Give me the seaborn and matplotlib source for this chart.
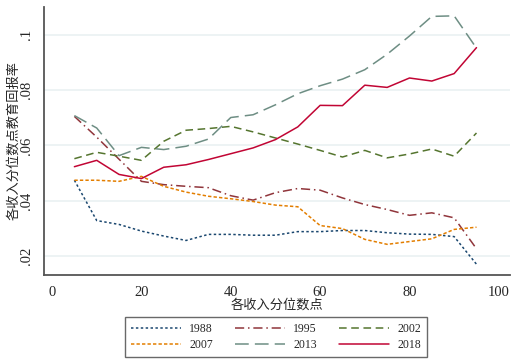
import numpy as np
import pandas as pd
import matplotlib
matplotlib.use("Agg")
import matplotlib.pyplot as plt
import seaborn as sns

# 收入分位数点
quantiles = [5, 10, 15, 20, 25, 30, 35, 40, 45, 50, 55, 60, 65, 70, 75, 80, 85, 90, 95]
years = ["1988", "1995", "2002", "2007", "2013", "2018"]

r1988 = [0.0474, 0.0328, 0.0314, 0.0290, 0.0272, 0.0256, 0.0278, 0.0278, 0.0275, 0.0275,
         0.0288, 0.0288, 0.0292, 0.0292, 0.0284, 0.0279, 0.0278, 0.0270, 0.0170]
r1995 = [0.0705, 0.0630, 0.0550, 0.0470, 0.0458, 0.0452, 0.0447, 0.0418, 0.0402, 0.0429,
         0.0444, 0.0438, 0.0410, 0.0386, 0.0368, 0.0347, 0.0356, 0.0338, 0.0226]
r2002 = [0.0552, 0.0575, 0.0561, 0.0546, 0.0615, 0.0655, 0.0661, 0.0669, 0.0649, 0.0627,
         0.0605, 0.0582, 0.0558, 0.0582, 0.0555, 0.0569, 0.0587, 0.0561, 0.0645]
r2007 = [0.0474, 0.0474, 0.0470, 0.0488, 0.0452, 0.0431, 0.0416, 0.0407, 0.0397, 0.0384,
         0.0378, 0.0310, 0.0299, 0.0260, 0.0242, 0.0252, 0.0262, 0.0296, 0.0304]
r2013 = [0.0708, 0.0663, 0.0563, 0.0593, 0.0585, 0.0597, 0.0623, 0.0701, 0.0711, 0.0747,
         0.0787, 0.0816, 0.0840, 0.0874, 0.0930, 0.0996, 0.1067, 0.1069, 0.0952]
r2018 = [0.0523, 0.0546, 0.0495, 0.0480, 0.0521, 0.0530, 0.0549, 0.0570, 0.0591, 0.0621,
         0.0667, 0.0745, 0.0744, 0.0818, 0.0810, 0.0844, 0.0833, 0.0860, 0.0954]

series = [r1988, r1995, r2002, r2007, r2013, r2018]
df = pd.concat(
    [pd.DataFrame({"q": quantiles, "r": s, "year": y}) for y, s in zip(years, series)],
    ignore_index=True,
)

# Stata s2color 配色
colors = {"1988": "#1a476f", "1995": "#90353b", "2002": "#55752f",
          "2007": "#e37e00", "2013": "#6e8e84", "2018": "#c10534"}
dashes = {"1988": (1.6, 1.6), "1995": (6, 2.5, 1, 2.5), "2002": (5, 3),
          "2007": (2.2, 1.4), "2013": (9, 4), "2018": ""}

sns.set_style("white")
plt.rcParams["font.family"] = ["Liberation Serif", "Noto Sans CJK SC"]

fig = plt.figure(figsize=(5.11, 3.64), dpi=100)
ax = fig.add_axes([44 / 511, 89 / 364, 466 / 511, 268 / 364])

sns.lineplot(data=df, x="q", y="r", hue="year", style="year",
             palette=colors, dashes=dashes, linewidth=1.1, ax=ax, legend=False)

ax.set_xlim(-1.8, 102.5)
ax.set_ylim(0.0131, 0.1101)
ax.set_xticks([0, 20, 40, 60, 80, 100])
ax.set_yticks([0.02, 0.04, 0.06, 0.08, 0.1])
ax.set_yticklabels([".02", ".04", ".06", ".08", ".1"], rotation=90, va="center")
ax.grid(axis="y", color="#e8f0f1", linewidth=1.1)
ax.set_axisbelow(True)
ax.tick_params(axis="both", direction="out", length=5, width=1, color="#555555",
               labelsize=10.5, pad=3)
for side in ["top", "right"]:
    ax.spines[side].set_visible(False)
for side in ["left", "bottom"]:
    ax.spines[side].set_color("#555555")
    ax.spines[side].set_linewidth(1.3)

ax.set_xlabel("各收入分位数点", fontsize=9.5, labelpad=0,
              family=["Noto Sans CJK SC"])
ax.set_ylabel("各收入分位数点教育回报率", fontsize=9.5, labelpad=0,
              family=["Noto Sans CJK SC"])

# 图例（按行排列：matplotlib 按列填充，所以重新排序）
order = ["1988", "2007", "1995", "2013", "2002", "2018"]
handles = [plt.Line2D([], [], color=colors[y], linewidth=1.1,
                      linestyle=(0, dashes[y]) if dashes[y] else "-") for y in order]
leg = fig.legend(handles, order, ncol=3, loc="center",
                 bbox_to_anchor=(276 / 511, 1 - 337 / 364),
                 frameon=True, fancybox=False, fontsize=8.5,
                 handlelength=4.2, columnspacing=1.9, handletextpad=0.7,
                 borderpad=0.5, labelspacing=0.4)
leg.get_frame().set_edgecolor("#444444")
leg.get_frame().set_linewidth(1.0)

fig.savefig("out.png", dpi=100)
